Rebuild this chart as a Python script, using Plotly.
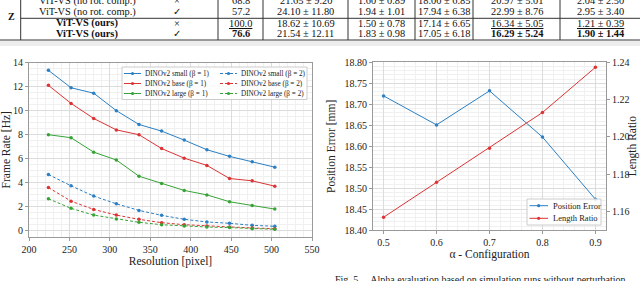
import plotly.graph_objects as go

W, H = 640, 281

# ---------------- data ----------------
resolutions = [224, 252, 280, 308, 336, 364, 392, 420, 448, 476, 504]
small_b1 = [13.35, 11.9, 11.45, 10.0, 8.85, 8.3, 7.55, 6.75, 6.2, 5.75, 5.3]
base_b1 = [12.1, 10.6, 9.35, 8.4, 8.0, 6.85, 6.05, 5.45, 4.36, 4.17, 3.72]
large_b1 = [8.0, 7.75, 6.55, 5.9, 4.55, 3.95, 3.37, 3.0, 2.43, 2.12, 1.82]
small_b2 = [4.7, 3.75, 2.9, 2.26, 1.71, 1.3, 0.97, 0.75, 0.64, 0.47, 0.39]
base_b2 = [3.61, 2.48, 1.79, 1.32, 0.97, 0.69, 0.52, 0.41, 0.33, 0.25, 0.19]
large_b2 = [2.68, 1.88, 1.32, 1.0, 0.72, 0.52, 0.41, 0.33, 0.28, 0.19, 0.14]
series_names = ["DINOv2 small (β = 1)", "DINOv2 small (β = 2)",
                "DINOv2 base (β = 1)", "DINOv2 base (β = 2)",
                "DINOv2 large (β = 1)", "DINOv2 large (β = 2)"]

alpha = [0.5, 0.6, 0.7, 0.8, 0.9]
pos_err = [18.72, 18.651, 18.732, 18.622, 18.474]
len_ratio = [1.157, 1.1757, 1.194, 1.2131, 1.2373]

table_rows = [
    ["ViT-VS (no rot. comp.)", "×", "68.8", "21.65 ± 9.20", "1.60 ± 0.89", "18.00 ± 6.85", "20.97 ± 5.01", "2.04 ± 2.50"],
    ["ViT-VS (no rot. comp.)", "✓", "57.2", "24.10 ± 11.80", "1.94 ± 1.01", "17.94 ± 6.38", "22.99 ± 8.76", "2.95 ± 3.40"],
    ["ViT-VS (ours)", "×", "100.0", "18.62 ± 10.69", "1.50 ± 0.78", "17.14 ± 6.65", "16.34 ± 5.05", "1.21 ± 0.39"],
    ["ViT-VS (ours)", "✓", "76.6", "21.54 ± 12.11", "1.83 ± 0.98", "17.05 ± 6.18", "16.29 ± 5.24", "1.90 ± 1.44"],
]
bold_cells = {(2, 0), (3, 0), (3, 2), (3, 6), (3, 7)}
underline_cells = {(2, 2), (2, 6), (2, 7)}

# ---------------- style ----------------
SERIF = "Liberation Serif, Times New Roman, serif"
BLUE, RED, GREEN = "#2b7fc2", "#dd3333", "#36a336"
colors = [BLUE, BLUE, RED, RED, GREEN, GREEN]
dashes = ["solid", "dash", "solid", "dash", "solid", "dash"]
MAJ, MIN = "#dcdcdc", "#f0f0f0"
SPINE = "#9a9a9a"


def px(x):
    return x / W


def py(y):
    return 1 - y / H


fig = go.Figure()

fr_series = [small_b1, small_b2, base_b1, base_b2, large_b1, large_b2]
for name, vals, c, d in zip(series_names, fr_series, colors, dashes):
    fig.add_trace(go.Scatter(
        x=resolutions, y=vals, name=name, mode="lines+markers",
        line=dict(color=c, width=1, dash="3px,2px" if d == "dash" else "solid"),
        marker=dict(color=c, size=3.5), xaxis="x", yaxis="y", showlegend=False))

fig.add_trace(go.Scatter(x=alpha, y=pos_err, name="Position Error", mode="lines+markers",
                         line=dict(color=BLUE, width=1), marker=dict(color=BLUE, size=3.5),
                         xaxis="x2", yaxis="y2", showlegend=False))
fig.add_trace(go.Scatter(x=alpha, y=len_ratio, name="Length Ratio", mode="lines+markers",
                         line=dict(color=RED, width=1), marker=dict(color=RED, size=3.5),
                         xaxis="x2", yaxis="y3", showlegend=False))

tickfont = dict(family=SERIF, size=10, color="#222")
titlefont = dict(family=SERIF, size=11.5, color="#222")


def axis_common(**kw):
    d = dict(showline=True, linecolor=SPINE, linewidth=1, mirror=True,
             showgrid=True, gridcolor=MAJ, gridwidth=1, zeroline=False,
             ticks="outside", ticklen=3, tickcolor=SPINE, tickfont=tickfont,
             automargin=False)
    d.update(kw)
    return d


fig.update_layout(
    width=W, height=H, template="none",
    margin=dict(l=0, r=0, t=0, b=0),
    paper_bgcolor="white", plot_bgcolor="white",
    xaxis=axis_common(domain=[px(29), px(312)], range=[200, 550], dtick=50,
                      anchor="y",
                      minor=dict(dtick=10, showgrid=True, gridcolor=MIN, ticks=""),
                      title=dict(text="Resolution [pixel]", font=titlefont, standoff=2)),
    yaxis=axis_common(domain=[py(237), py(62.5)], range=[-0.5, 14], dtick=2,
                      anchor="x",
                      minor=dict(dtick=0.5, showgrid=True, gridcolor=MIN, ticks=""),
                      title=dict(text="Frame Rate [Hz]", font=titlefont, standoff=5)),
    xaxis2=axis_common(domain=[px(373), px(606)], range=[0.48, 0.92], dtick=0.1,
                       anchor="y2",
                       minor=dict(dtick=0.02, showgrid=True, gridcolor=MIN, ticks=""),
                       title=dict(text="α - Configuration", font=titlefont, standoff=2)),
    yaxis2=axis_common(domain=[py(230.3), py(62.3)], range=[18.40, 18.80], dtick=0.05,
                       tickformat=".2f", anchor="x2", mirror=False,
                       minor=dict(dtick=0.01, showgrid=True, gridcolor=MIN, ticks=""),
                       title=dict(text="Position Error [mm]", font=titlefont, standoff=6)),
    yaxis3=axis_common(range=[1.15, 1.24], dtick=0.02, tickformat=".2f",
                       overlaying="y2", side="right", anchor="x2", showgrid=False,
                       mirror=False),
)

shapes = []
annotations = []

# right axis title
annotations.append(dict(x=px(632), y=py(146.3), xref="paper", yref="paper",
                        text="Length Ratio", textangle=-90, showarrow=False,
                        xanchor="center", yanchor="middle", font=titlefont))

# ---------------- table ----------------
col_centers = [87, 177, 240.5, 305.5, 381.5, 444, 516.5, 600]
row_centers = [0.5, 11.5, 23.3, 33.8]
tfont = 10.4
for ri, row in enumerate(table_rows):
    for ci, txt in enumerate(row):
        f = dict(family=SERIF, size=tfont, color="#111")
        t = txt
        if (ri, ci) in bold_cells:
            t = "<b>" + txt + "</b>"
        if (ri, ci) in underline_cells:
            f["lineposition"] = "under"
        annotations.append(dict(x=px(col_centers[ci]), y=py(row_centers[ri]),
                                xref="paper", yref="paper", text=t, showarrow=False,
                                xanchor="center", yanchor="middle", font=f))
annotations.append(dict(x=px(6), y=py(9), xref="paper", yref="paper", text="<b>Z</b>",
                        showarrow=False, font=dict(family=SERIF, size=10, color="#111")))

for xv in [20.7, 218, 263, 348, 415, 473, 560]:
    shapes.append(dict(type="line", xref="paper", yref="paper", x0=px(xv), x1=px(xv),
                       y0=py(-2), y1=py(40), line=dict(color="#333", width=1)))
shapes.append(dict(type="line", xref="paper", yref="paper", x0=px(20.7), x1=1,
                   y0=py(18.3), y1=py(18.3), line=dict(color="#333", width=1)))
shapes.append(dict(type="line", xref="paper", yref="paper", x0=0, x1=1,
                   y0=py(40), y1=py(40), line=dict(color="#333", width=1)))
shapes.append(dict(type="rect", xref="paper", yref="paper", x0=0, x1=1,
                   y0=py(46), y1=py(41), line=dict(width=0), fillcolor="#ededed", layer="below"))

# ---------------- left legend ----------------
shapes.append(dict(type="rect", xref="paper", yref="paper", x0=px(122), x1=px(307),
                   y0=py(99.5), y1=py(67), line=dict(color="#cccccc", width=1),
                   fillcolor="rgba(255,255,255,0.85)"))
for i, (name, c, d) in enumerate(zip(series_names, colors, dashes)):
    col = i % 2
    row = i // 2
    x0 = 124 if col == 0 else 220
    yy = 73.5 + row * 10
    shapes.append(dict(type="line", xref="paper", yref="paper", x0=px(x0), x1=px(x0 + 17),
                       y0=py(yy), y1=py(yy),
                       line=dict(color=c, width=1, dash="3px,2px" if d == "dash" else "solid")))
    r = 1.6
    shapes.append(dict(type="circle", xref="paper", yref="paper",
                       x0=px(x0 + 8.5 - r), x1=px(x0 + 8.5 + r),
                       y0=py(yy + r), y1=py(yy - r), line=dict(width=0), fillcolor=c))
    annotations.append(dict(x=px(x0 + 19), y=py(yy), xref="paper", yref="paper", text=name,
                            showarrow=False, xanchor="left", yanchor="middle",
                            font=dict(family=SERIF, size=7.2, color="#222")))

# ---------------- right legend ----------------
shapes.append(dict(type="rect", xref="paper", yref="paper", x0=px(527), x1=px(601),
                   y0=py(225), y1=py(199), line=dict(color="#cccccc", width=1),
                   fillcolor="rgba(255,255,255,0.85)"))
for i, (name, c) in enumerate([("Position Error", BLUE), ("Length Ratio", RED)]):
    yy = 205.7 + i * 12.6
    shapes.append(dict(type="line", xref="paper", yref="paper", x0=px(529.5), x1=px(548),
                       y0=py(yy), y1=py(yy), line=dict(color=c, width=1)))
    r = 1.6
    shapes.append(dict(type="circle", xref="paper", yref="paper",
                       x0=px(538.7 - r), x1=px(538.7 + r),
                       y0=py(yy + r), y1=py(yy - r), line=dict(width=0), fillcolor=c))
    annotations.append(dict(x=px(551), y=py(yy), xref="paper", yref="paper", text=name,
                            showarrow=False, xanchor="left", yanchor="middle",
                            font=dict(family=SERIF, size=8.5, color="#222")))

# ---------------- caption ----------------
annotations.append(dict(x=px(333), y=py(279.5), xref="paper", yref="paper",
                        text="Fig. 5.    Alpha evaluation based on simulation runs without perturbation.",
                        showarrow=False, xanchor="left", yanchor="middle",
                        font=dict(family=SERIF, size=10, color="#222")))

fig.update_layout(shapes=shapes, annotations=annotations)
fig.write_html("out.html", config={"displayModeBar": False},
               post_script="document.body.style.margin='0';document.body.style.overflow='hidden';")
